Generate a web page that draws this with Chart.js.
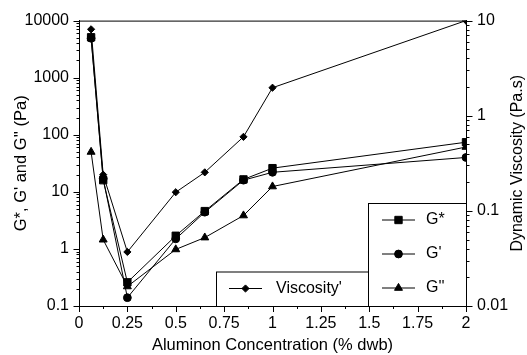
<!DOCTYPE html>
<html>
<head>
<meta charset="utf-8">
<script src="https://cdn.jsdelivr.net/npm/chart.js@4/dist/chart.umd.min.js"></script>
<style>
  html, body { margin: 0; padding: 0; background: #fff; }
  #wrap { width: 527px; height: 355px; }
</style>
</head>
<body>
<div id="wrap"><canvas id="rheo_chart" width="527" height="355"></canvas></div>
<script>
// Aluminon concentration (% dwb) and measured moduli / viscosity

const concentration = [0.0625, 0.125, 0.25, 0.5, 0.65, 0.85, 1.0, 2.0];
const gStar = [5100, 16, 0.26, 1.7, 4.6, 16.5, 26, 74];
const gPrime = [4900, 17, 0.14, 1.5, 4.4, 16, 22, 40];
const gDouble = [50, 1.45, 0.22, 0.98, 1.58, 3.85, 12.4, 61];
const viscosity = [8.1, 0.24, 0.037, 0.157, 0.254, 0.6, 1.97, 10];

const xTicks = [0, 0.25, 0.5, 0.75, 1, 1.25, 1.5, 1.75, 2];
const moduliRange = [0.1, 10000];
const viscosityRange = [0.01, 10];
const viscosityTitle = "Dynamic Viscosity (Pa.s)";

const FONT = "'Liberation Sans', Arial, sans-serif";

Chart.defaults.color = "#000";
Chart.defaults.font.family = FONT;

function toPoints(values) {
    return values.map((v, i) => ({ x: concentration[i], y: v }));
}

// 1..9 x 10^n ticks for a log axis
function logTicks(min, max) {
    const out = [];
    for (let e = Math.round(Math.log10(min)); e <= Math.round(Math.log10(max)); e++) {
        for (let m = 1; m <= 9; m++) {
            const v = m * Math.pow(10, e);
            if (v >= min * 0.999 && v <= max * 1.001) out.push({ value: v });
        }
    }
    return out;
}

function isDecade(v) {
    const l = Math.log10(v);
    return Math.abs(l - Math.round(l)) < 1e-6;
}

function decadeLabel(v) {
    if (!isDecade(v)) return "";
    return v < 1 ? String(+v.toFixed(2)) : String(Math.round(v));
}

const series = [
    { label: "Viscosity'", data: viscosity, style: "rectRot", radius: 3.6, axis: "y2" },
    { label: "G*", data: gStar, style: "rect", radius: 5.2, axis: "y" },
    { label: "G'", data: gPrime, style: "circle", radius: 3.9, axis: "y" },
    { label: "G''", data: gDouble, style: "triangle", radius: 4.6, axis: "y" }
];

// tick marks + frame + legend boxes + right axis title (reads bottom to top)
const decorations = {
    id: "decorations",
    afterDatasetsDraw(chart) {
        const ctx = chart.ctx;
        const area = chart.chartArea;
        ctx.save();
        ctx.strokeStyle = "#000";
        ctx.lineWidth = 1;

        // frame
        ctx.strokeRect(area.left + 0.5, area.top + 0.5, area.right - area.left, area.bottom - area.top);

        // left / right axis ticks
        [["y", -1, area.left], ["y2", 1, area.right]].forEach(([id, dir, x0]) => {
            const scale = chart.scales[id];
            scale.ticks.forEach(t => {
                const py = Math.round(scale.getPixelForValue(t.value)) + 0.5;
                const len = isDecade(t.value) ? 6 : 3;
                ctx.beginPath();
                ctx.moveTo(x0 + 0.5, py);
                ctx.lineTo(x0 + 0.5 + dir * len, py);
                ctx.stroke();
            });
        });

        // bottom axis ticks, minor halfway between majors
        const xs = chart.scales.x;
        xTicks.forEach((v, i) => {
            const px = Math.round(xs.getPixelForValue(v)) + 0.5;
            ctx.beginPath();
            ctx.moveTo(px, area.bottom);
            ctx.lineTo(px, area.bottom + 6);
            ctx.stroke();
            if (i < xTicks.length - 1) {
                const mx = Math.round(xs.getPixelForValue((v + xTicks[i + 1]) / 2)) + 0.5;
                ctx.beginPath();
                ctx.moveTo(mx, area.bottom);
                ctx.lineTo(mx, area.bottom + 3);
                ctx.stroke();
            }
        });

        // legend boxes
        const drawSample = (s, x1, x2, y) => {
            ctx.beginPath();
            ctx.moveTo(x1, y);
            ctx.lineTo(x2, y);
            ctx.stroke();
            ctx.fillStyle = "#000";
            Chart.helpers.drawPoint(ctx, { pointStyle: s.style, radius: s.radius, borderWidth: 1 }, (x1 + x2) / 2, y);
        };

        ctx.font = "16px " + FONT;
        ctx.textBaseline = "middle";
        ctx.textAlign = "left";

        const vBox = { left: area.left + 137, right: area.left + 289, top: area.bottom - 34.5 };
        ctx.fillStyle = "#fff";
        ctx.fillRect(vBox.left, vBox.top, vBox.right - vBox.left, area.bottom - vBox.top);
        ctx.strokeRect(vBox.left + 0.5, vBox.top + 0.5, vBox.right - vBox.left, area.bottom - vBox.top);
        drawSample(series[0], vBox.left + 13, vBox.left + 46, vBox.top + 17);
        ctx.fillStyle = "#000";
        ctx.fillText(series[0].label, vBox.left + 60, vBox.top + 17);

        const gBox = { left: vBox.right, right: area.right, top: area.bottom - 103 };
        ctx.fillStyle = "#fff";
        ctx.fillRect(gBox.left, gBox.top, gBox.right - gBox.left, area.bottom - gBox.top);
        ctx.strokeRect(gBox.left + 0.5, gBox.top + 0.5, gBox.right - gBox.left, area.bottom - gBox.top);
        [1, 2, 3].forEach((k, j) => {
            const y = gBox.top + 17 + j * 34;
            drawSample(series[k], gBox.left + 14, gBox.left + 47, y);
            ctx.fillStyle = "#000";
            ctx.fillText(series[k].label, gBox.left + 58, y);
        });

        // right axis title
        ctx.translate(chart.width - 9, (area.top + area.bottom) / 2);
        ctx.rotate(-Math.PI / 2);
        ctx.textAlign = "center";
        ctx.fillStyle = "#000";
        ctx.fillText(viscosityTitle, 0, 0);

        ctx.restore();
    }
};

const rheo_chart_ctx = document.getElementById("rheo_chart").getContext("2d");
const rheo_chart = new Chart(rheo_chart_ctx, {
    type: "line",
    data: {
        datasets: series.map(s => ({
            label: s.label,
            data: toPoints(s.data),
            yAxisID: s.axis,
            borderColor: "#000",
            backgroundColor: "#000",
            borderWidth: 1,
            pointStyle: s.style,
            pointRadius: s.radius,
            pointBorderWidth: 1,
            tension: 0
        }))
    },
    options: {
        responsive: false,
        animation: false,
        layout: { padding: { top: 17, left: 0, right: 0, bottom: 0 } },
        plugins: {
            legend: { display: false },
            tooltip: { enabled: false }
        },
        scales: {
            x: {
                type: "linear",
                min: 0,
                max: 2,
                afterBuildTicks: scale => { scale.ticks = xTicks.map(v => ({ value: v })); },
                afterFit: scale => { scale.height = 49; },
                ticks: {
                    autoSkip: false,
                    maxRotation: 0,
                    padding: 8,
                    font: { size: 16 },
                    callback: v => String(+(+v).toFixed(2))
                },
                grid: { drawOnChartArea: false, drawTicks: false },
                border: { color: "#000", width: 1 },
                title: {
                    display: true,
                    text: "Aluminon Concentration (% dwb)",
                    font: { size: 16.5 },
                    padding: { top: 0, bottom: 0 }
                }
            },
            y: {
                type: "logarithmic",
                position: "left",
                min: moduliRange[0],
                max: moduliRange[1],
                afterBuildTicks: scale => { scale.ticks = logTicks(moduliRange[0], moduliRange[1]); },
                afterFit: scale => { scale.width = 79; },
                ticks: {
                    autoSkip: false,
                    padding: 10,
                    font: { size: 16 },
                    callback: v => decadeLabel(v)
                },
                grid: { drawOnChartArea: false, drawTicks: false },
                border: { color: "#000", width: 1 },
                title: {
                    display: true,
                    text: "G*, G' and G'' (Pa)",
                    font: { size: 16.5 },
                    padding: { top: 12, bottom: 0 }
                }
            },
            y2: {
                type: "logarithmic",
                position: "right",
                min: viscosityRange[0],
                max: viscosityRange[1],
                afterBuildTicks: scale => { scale.ticks = logTicks(viscosityRange[0], viscosityRange[1]); },
                afterFit: scale => { scale.width = 61; },
                ticks: {
                    autoSkip: false,
                    padding: 11,
                    font: { size: 16 },
                    callback: v => decadeLabel(v)
                },
                grid: { drawOnChartArea: false, drawTicks: false },
                border: { color: "#000", width: 1 }
            }
        }
    },
    plugins: [decorations]
});
</script>
</body>
</html>
